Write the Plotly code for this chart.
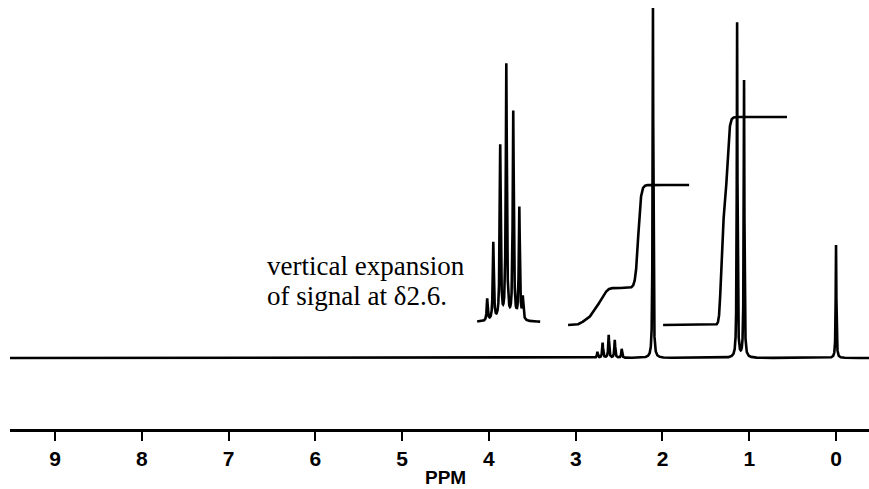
import numpy as np
import plotly.graph_objects as go

# ---- data (ppm positions, heights in display units above baseline) ----
main_ppm = [0.00, 2.11, 1.14, 1.06, 2.75, 2.69, 2.62, 2.55, 2.47]
main_height = [113, 350, 335, 277, 6, 15, 23, 18, 9]
main_width = [0.0045, 0.0045, 0.0045, 0.0045, 0.006, 0.006, 0.006, 0.006, 0.006]

# vertical expansion of the 2.6 ppm signal (drawn at 3.4-4.1 on the scale)
inset_range = [4.136, 3.41]
inset_base = 36
inset_ppm = [4.02, 3.95, 3.87, 3.80, 3.72, 3.65, 3.61]
inset_height = [22, 78, 174, 255, 208, 112, 22]

# integral traces
int1_range = [3.088, 1.693]
int1_base = 33
int1_step_ppm = [2.93, 2.82, 2.73, 2.66, 2.28]
int1_step_h = [5, 11, 12, 9, 103]
int1_step_w = [0.025, 0.022, 0.022, 0.02, 0.016]

int2_range = [1.993, 0.565]
int2_base = 33
int2_step_ppm = [1.325, 1.255]
int2_step_h = [107, 101]
int2_step_w = [0.01, 0.014]

tick_vals = [9, 8, 7, 6, 5, 4, 3, 2, 1, 0]
tick_text = ["9", "8", "7", "6", "5", "4", "3", "2", "1", "0"]

x_range = [9.52, -0.38]


def lorentz_sum(x, pos, hts, wds):
    y = np.zeros_like(x)
    for p, h, w in zip(pos, hts, wds):
        y += h / (1.0 + ((x - p) / w) ** 2)
    return y


def steps(x, base, pos, hts, wds):
    y = np.full_like(x, float(base))
    for p, h, w in zip(pos, hts, wds):
        y += h / (1.0 + np.exp((x - p) / w))
    return y


xs = np.linspace(x_range[0], x_range[1], 40000)
ys = lorentz_sum(xs, main_ppm, main_height, main_width)

xi = np.linspace(inset_range[0], inset_range[1], 4000)
yi = inset_base + lorentz_sum(xi, inset_ppm, inset_height, [0.007] * len(inset_ppm))

x1 = np.linspace(int1_range[0], int1_range[1], 2000)
y1 = steps(x1, int1_base, int1_step_ppm, int1_step_h, int1_step_w)

x2 = np.linspace(int2_range[0], int2_range[1], 2000)
y2 = steps(x2, int2_base, int2_step_ppm, int2_step_h, int2_step_w)

line = dict(color="black", width=2.6)
fig = go.Figure()
fig.add_trace(go.Scatter(x=xs, y=ys, mode="lines", line=line, hoverinfo="skip"))
fig.add_trace(go.Scatter(x=xi, y=yi, mode="lines", line=line, hoverinfo="skip"))
fig.add_trace(go.Scatter(x=x1, y=y1, mode="lines", line=line, hoverinfo="skip"))
fig.add_trace(go.Scatter(x=x2, y=y2, mode="lines", line=line, hoverinfo="skip"))

serif = dict(family="Liberation Serif", size=27, color="black")
fig.add_annotation(x=6.58, y=92, xref="x", yref="y", text="vertical expansion",
                   showarrow=False, xanchor="left", yanchor="middle", font=serif)
fig.add_annotation(x=6.58, y=62, xref="x", yref="y", text="of signal at δ2.6.",
                   showarrow=False, xanchor="left", yanchor="middle", font=serif)
fig.add_annotation(x=4.5, y=-48 / 429, xref="x", yref="paper", text="PPM",
                   showarrow=False, xanchor="center", yanchor="middle",
                   font=dict(family="Liberation Sans", size=19, color="black", weight="bold"))

fig.update_layout(
    width=869, height=489,
    margin=dict(l=10, r=0, t=0, b=60),
    paper_bgcolor="white", plot_bgcolor="white",
    showlegend=False,
    xaxis=dict(range=x_range, showgrid=False, zeroline=False,
               showline=True, linecolor="black", linewidth=2.5,
               ticks="outside", ticklen=9, tickwidth=2, tickcolor="black",
               tickvals=tick_vals, ticktext=tick_text, ticklabelstandoff=0,
               tickfont=dict(family="Liberation Sans", size=21, color="black", weight="bold")),
    yaxis=dict(range=[-71, 358], visible=False, showgrid=False, zeroline=False),
)
fig.write_html("out.html")
